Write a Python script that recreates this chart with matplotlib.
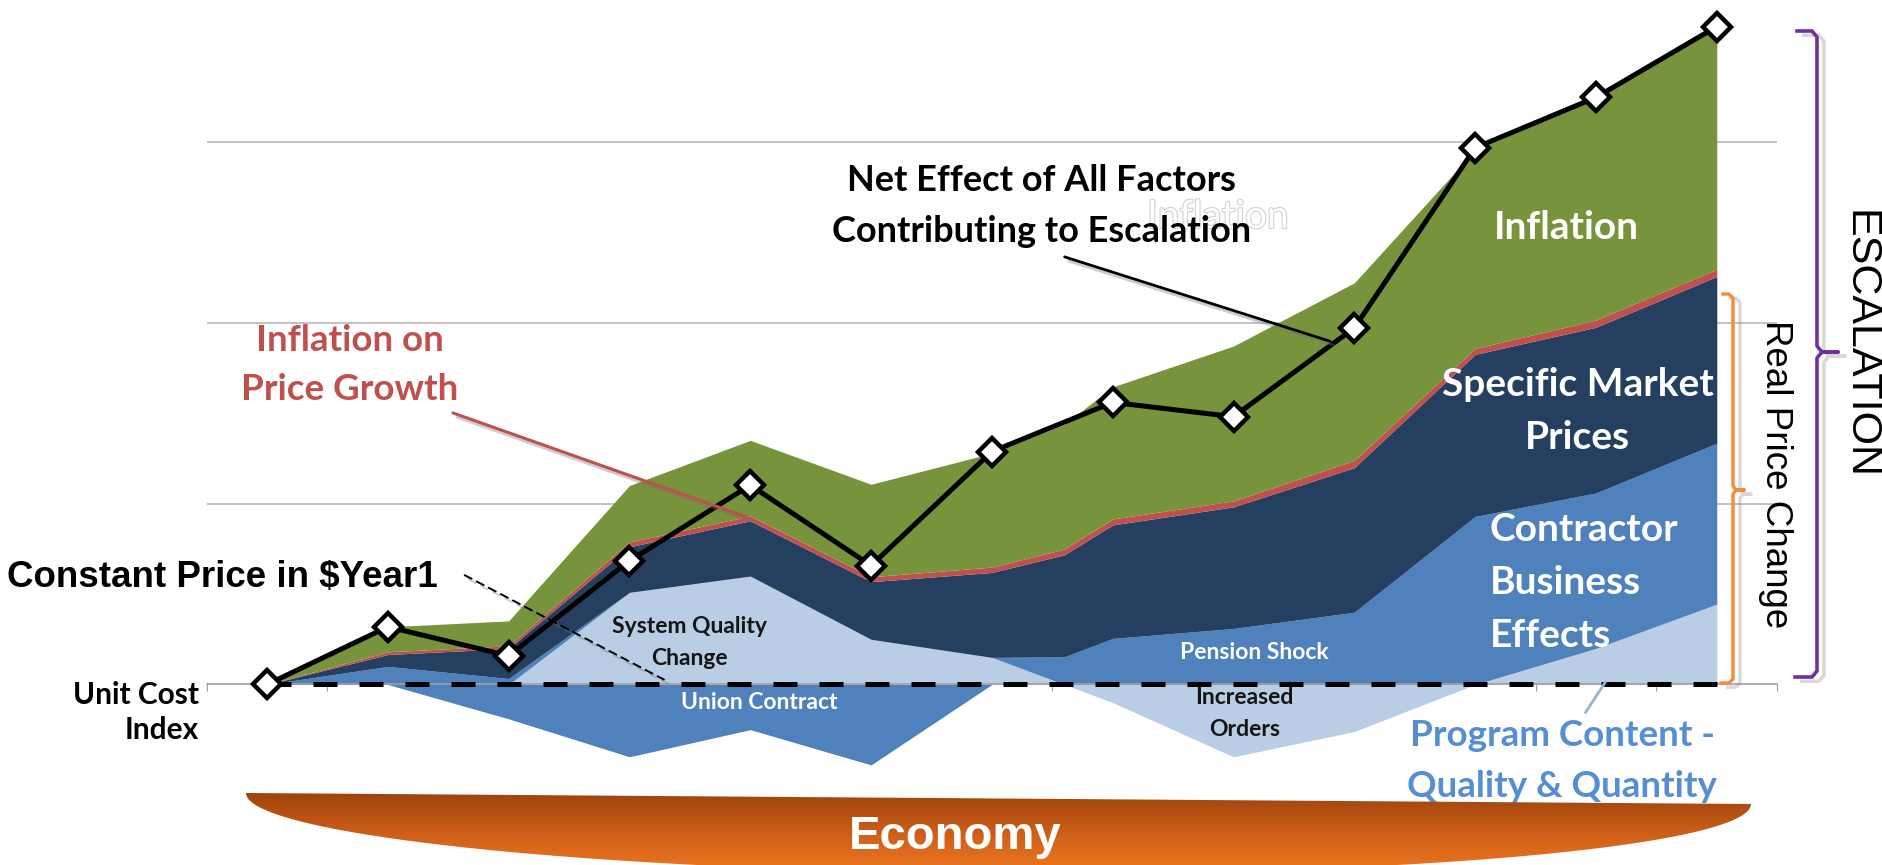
import numpy as np
import matplotlib.pyplot as plt
from matplotlib import patheffects as pe
from matplotlib import font_manager as fm
from matplotlib.path import Path
from matplotlib.patches import PathPatch
from matplotlib.colors import LinearSegmentedColormap

W, H, DPI = 1883, 865, 100

# years since the $Year1 base; every layer is its contribution to the unit cost index
years = np.arange(13)
program_content = [0, 0, 0, 0.51, 0.60, 0.25, 0.15, -0.10, -0.40, -0.26, 0.0, 0.20, 0.445]
contractor_effects = [0, 0.10, 0.033, 0, 0, 0, 0, 0.255, 0.31, 0.40, 0.93, 0.86, 0.89]
union_contract = [0, 0, -0.19, -0.40, -0.25, -0.445, 0, 0, 0, 0, 0, 0, 0]
market_prices = [0, 0.066, 0.166, 0.252, 0.306, 0.319, 0.47, 0.628, 0.673, 0.80, 0.897, 0.917, 0.923]
inflation_on_growth = [0, 0.015, 0.015, 0.027, 0.027, 0.027, 0.03, 0.033, 0.033, 0.04, 0.033, 0.04, 0.04]
inflation = [0, 0.138, 0.138, 0.312, 0.418, 0.512, 0.63, 0.731, 0.857, 0.983, 1.097, 1.236, 1.342]
net_effect = [0, 0.319, 0.159, 0.684, 1.103, 0.658, 1.289, 1.561, 1.482, 1.973, 2.970, 3.249, 3.641]
constant_price = [0] * 13

GREEN = '#77933C'
RED = '#C0504D'
NAVY = '#253F60'
MID_BLUE = '#4F81BD'
LIGHT_BLUE = '#B9CDE5'
LABEL_BLUE = '#558ED5'


def has_font(name):
    try:
        fm.findfont(name, fallback_to_default=False)
        return True
    except Exception:
        return False


CAL = 'Lato' if has_font('Lato') else 'DejaVu Sans'
ARIAL = 'Liberation Sans'

fig = plt.figure(figsize=(W / DPI, H / DPI), dpi=DPI)
ax = fig.add_axes([206.6 / W, 0, 1570.6 / W, 1])
ax.set_xlim(-0.5, 12.5)
ax.set_ylim(-0.999, 3.788)
ax.patch.set_alpha(0)

# fine grid so sign changes between years split cleanly into the upper/lower stacks
xf = np.linspace(0, 12, 2401)
f = lambda s: np.interp(xf, years, s)
prog = f(program_content)
prog_pos, prog_neg = np.clip(prog, 0, None), np.clip(prog, None, 0)

upper = [(prog_pos, LIGHT_BLUE), (f(contractor_effects), MID_BLUE), (f(market_prices), NAVY),
         (f(inflation_on_growth), RED), (f(inflation), GREEN)]
base = np.zeros_like(xf)
for vals, col in upper:
    ax.fill_between(xf, base, base + vals, color=col, lw=0, zorder=2)
    base = base + vals

low = np.zeros_like(xf)
for vals, col in [(f(union_contract), MID_BLUE), (prog_neg, LIGHT_BLUE)]:
    ax.fill_between(xf, low, low + vals, color=col, lw=0, zorder=2)
    low = low + vals

# gridlines and the unit cost axis
for g in (1, 2, 3):
    ax.axhline(g, color='#BDBDBD', lw=1.3, zorder=1)
for s in ('top', 'right', 'left'):
    ax.spines[s].set_visible(False)
ax.spines['bottom'].set_position(('data', 0))
ax.spines['bottom'].set_color('#A0A0A0')
ax.spines['bottom'].set_linewidth(1.2)
ax.set_xticks(np.arange(-0.5, 13, 1))
ax.tick_params(axis='x', direction='out', length=5, color='#A0A0A0', labelbottom=False)
ax.set_yticks([])

ax.plot(years, constant_price, color='black', lw=3.6, dashes=(4.8, 4.4), zorder=5)
ax.plot(years, net_effect, color='black', lw=3.6, marker='D', ms=14, mfc='white',
        mec='black', mew=3.2, zorder=6, clip_on=False)

shadow = [pe.SimpleLineShadow(offset=(3, -3), shadow_color='#707070', alpha=0.35), pe.Normal()]

# callouts
ax.annotate('', xy=(8.82, 1.895), xytext=(6.58, 2.371),
            arrowprops=dict(arrowstyle='-', color='black', lw=2, path_effects=shadow), zorder=7)
ax.annotate('', xy=(4.0, 0.92), xytext=(1.517, 1.508),
            arrowprops=dict(arrowstyle='-', color=RED, lw=2.2, path_effects=shadow), zorder=7)
ax.annotate('', xy=(3.306, 0.02), xytext=(1.616, 0.612),
            arrowprops=dict(arrowstyle='-', color='black', lw=1.4, ls=(0, (4, 3)),
                            path_effects=shadow), zorder=7)
ax.annotate('', xy=(10.90, -0.168), xytext=(11.09, 0.025),
            arrowprops=dict(arrowstyle='-', color='#95B3D7', lw=2), zorder=7)

ax.text(7.87, 2.587, 'Inflation', family=CAL, fontsize=28, color='white', ha='center',
        va='center', zorder=3, path_effects=[pe.withStroke(linewidth=1.5, foreground='#D0D0D0')])
ax.text(6.414, 2.648, 'Net Effect of All Factors\nContributing to Escalation', family=CAL,
        weight='bold', fontsize=26, ha='center', va='center', linespacing=1.7, zorder=8)
ax.text(0.684, 1.768, 'Inflation on\nPrice Growth', family=CAL, weight='bold', fontsize=26.5,
        color=RED, ha='center', va='center', linespacing=1.6, zorder=8)
ax.text(-2.155, 0.59, 'Constant Price in $Year1', family=ARIAL, weight='bold', fontsize=26.5,
        ha='left', va='center', clip_on=False, zorder=8)
ax.text(-0.567, -0.155, 'Unit Cost\nIndex', family=CAL, weight='bold', fontsize=21.5,
        ha='right', va='center', linespacing=1.3, clip_on=False, zorder=8)

small = dict(family=CAL, weight='bold', fontsize=16.5, ha='center', va='center', zorder=8)
ax.text(3.50, 0.23, 'System Quality\nChange', color='#151515', linespacing=1.65, **small)
ax.text(4.073, -0.097, 'Union Contract', color='white', **small)
ax.text(8.175, 0.175, 'Pension Shock', color='white', **small)
ax.text(8.09, -0.158, 'Increased\nOrders', color='#151515', linespacing=1.65, **small)

big = dict(family=CAL, weight='bold', fontsize=28, color='white', va='center', zorder=8)
ax.text(10.756, 2.529, 'Inflation', ha='center', **big)
ax.text(10.847, 1.513, 'Specific Market\nPrices', ha='center', linespacing=1.62, **big)
ax.text(10.119, 0.567, 'Contractor\nBusiness\nEffects', ha='left', linespacing=1.62, **big)
ax.text(10.72, -0.423, 'Program Content -\nQuality & Quantity', family=CAL, weight='bold',
        fontsize=26.5, color=LABEL_BLUE, ha='center', va='center', linespacing=1.68, zorder=8)

# overlay in pixel coordinates for the brackets and the economy band
ov = fig.add_axes([0, 0, 1, 1], zorder=5)
ov.set_xlim(0, W)
ov.set_ylim(H, 0)
ov.axis('off')

bshadow = [pe.SimpleLineShadow(offset=(5, -3), shadow_color='#808080', alpha=0.3), pe.Normal()]
purple = [(1797, 31), (1812, 31), (1817, 37), (1817, 346), (1822, 352), (1838, 352),
          (1822, 352), (1817, 358), (1817, 671), (1812, 677), (1795, 677)]
orange = [(1723, 294), (1729, 294), (1733, 298), (1733, 486), (1736, 490), (1744, 490),
          (1736, 490), (1733, 494), (1733, 679), (1729, 683), (1721, 683)]
ov.plot(*zip(*purple), color='#7030A0', lw=2.6, solid_joinstyle='round', path_effects=bshadow)
ov.plot(*zip(*orange), color='#F68B36', lw=2.4, solid_joinstyle='round', path_effects=bshadow)
ov.text(1860, 344, 'ESCALATION', family=ARIAL, fontsize=31, rotation=-90,
        ha='center', va='center')
ov.text(1776, 474, 'Real Price Change', family=ARIAL, fontsize=26.5, rotation=-90,
        ha='center', va='center')

ex0, ex1, ey0, ey1, eb = 246, 1751, 793, 804, 75
t = np.linspace(0, np.pi, 300)
exs = (ex0 + ex1) / 2 + (ex1 - ex0) / 2 * np.cos(t)
eys = ey0 + (ey1 - ey0) * (exs - ex0) / (ex1 - ex0) + eb * np.sin(t)
verts = [(ex0, ey0), (ex1, ey1)] + list(zip(exs, eys)) + [(ex0, ey0)]
band = PathPatch(Path(verts), facecolor='none', edgecolor='none')
ov.add_patch(band)
grad = LinearSegmentedColormap.from_list('econ', ['#9C420C', '#D0601A', '#F47C20'])
img = ov.imshow(np.linspace(0, 1, 256).reshape(-1, 1), cmap=grad, aspect='auto',
                extent=(ex0, ex1, ey0 + eb + 12, ey0 - 2), origin='upper', zorder=2)
img.set_clip_path(band)
ov.set_xlim(0, W)
ov.set_ylim(H, 0)
ov.text(955, 837, 'Economy', family=ARIAL, weight='bold', fontsize=34, color='white',
        ha='center', va='center', zorder=3)

fig.savefig('out.png', dpi=DPI, facecolor='white')
